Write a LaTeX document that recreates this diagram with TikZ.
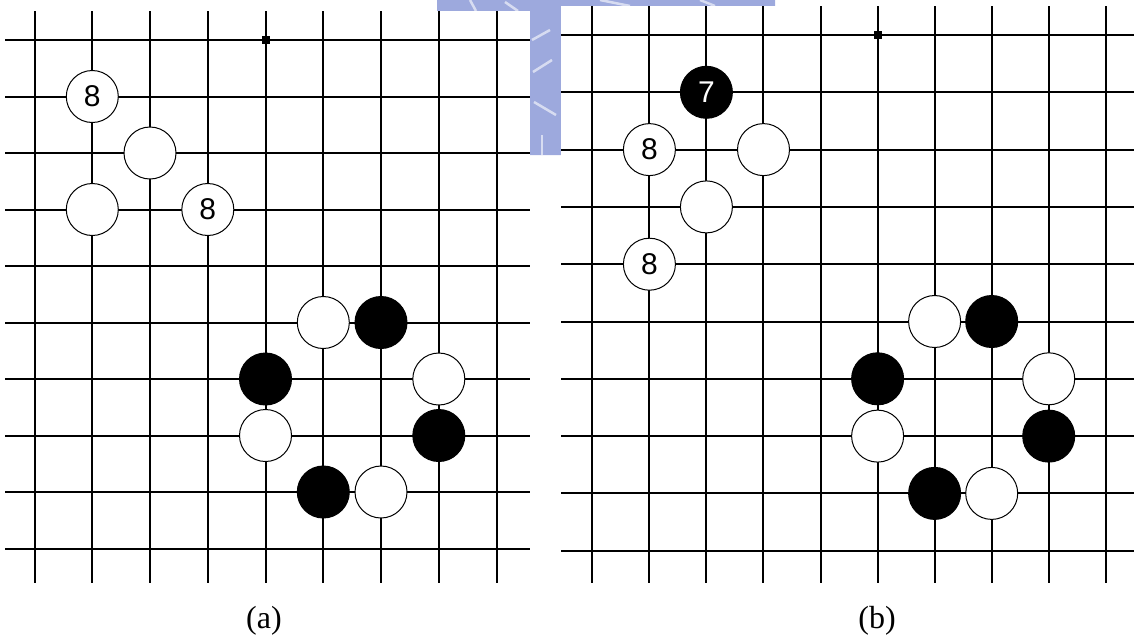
\documentclass[tikz,border=0pt]{standalone}
\usepackage{fontspec}
\setmainfont{Liberation Serif}
\newfontfamily\stonefont{Liberation Sans}
\definecolor{wmblue}{HTML}{9DA9DD}
\begin{document}
\begin{tikzpicture}[x=1pt,y=-1pt,
  gridline/.style={line width=2pt,black},
  wstone/.style={circle,draw=black,line width=1pt,fill=white,minimum size=52pt,inner sep=0pt,
    font=\stonefont\fontsize{30}{30}\selectfont},
  bstone/.style={circle,draw=black,line width=1pt,fill=black,minimum size=52pt,inner sep=0pt,
    text=white,font=\stonefont\fontsize{30}{30}\selectfont},
  starpt/.style={rectangle,fill=black,minimum size=8pt,inner sep=0pt},
  caption/.style={font=\fontsize{32}{32}\selectfont},
  wmstreak/.style={draw=white,line width=2.5pt,opacity=0.6}]
\useasboundingbox (0,0) rectangle (1134,641);
% watermark remnant
\fill[wmblue] (437,0) -- (775,0) -- (775,6) -- (561,6) -- (561,155) -- (530,155) -- (530,11) -- (437,11) -- cycle;
\draw[wmstreak] (470,0) -- (476,11);
\draw[wmstreak] (505,2) -- (518,11);
\draw[wmstreak] (600,0) -- (630,6);
\draw[wmstreak] (700,0) -- (715,6);
\draw[wmstreak] (532,40) -- (550,30);
\draw[wmstreak] (533,72) -- (552,60);
\draw[wmstreak] (534,102) -- (556,115);
\draw[wmstreak] (542,135) -- (542,155);
% board backgrounds
\fill[white] (0,11) rectangle (530,590);
\fill[white] (561,6) rectangle (1134,590);
% ---------------- left board ----------------
\foreach \i in {0,...,8} {
  \pgfmathsetmacro{\xx}{34.5+57.76*\i}
  \draw[gridline] (\xx,11) -- (\xx,583);
}
\foreach \j in {0,...,9} {
  \pgfmathsetmacro{\yy}{40+56.5*\j}
  \draw[gridline] (5,\yy) -- (530,\yy);
}
\node[starpt] (la) at (265.5,40) {};
\node[wstone] (l1) at (92.3,96.5) {8};
\node[wstone] (l2) at (150,153) {};
\node[wstone] (l3) at (92.3,209.5) {};
\node[wstone] (l4) at (207.8,209.5) {8};
\node[wstone] (l5) at (323.3,322.5) {};
\node[bstone] (l6) at (381,322.5) {};
\node[wstone] (l7) at (438.8,379) {};
\node[bstone] (l8) at (265.5,379) {};
\node[wstone] (l9) at (265.5,435.5) {};
\node[bstone] (l10) at (438.8,435.5) {};
\node[bstone] (l11) at (323.3,492) {};
\node[wstone] (l12) at (381,492) {};
\node[caption] (ca) at (264,621) {(a)};
% ---------------- right board ----------------
\foreach \i in {0,...,9} {
  \pgfmathsetmacro{\xx}{592.3+57.05*\i}
  \draw[gridline] (\xx,6) -- (\xx,583);
}
\foreach \j in {0,...,9} {
  \pgfmathsetmacro{\yy}{35+57.3*\j}
  \draw[gridline] (561,\yy) -- (1134,\yy);
}
\node[starpt] (ra) at (877.6,35) {};
\node[bstone] (r1) at (706.4,92.3) {7};
\node[wstone] (r2) at (649.4,149.6) {8};
\node[wstone] (r3) at (763.5,149.6) {};
\node[wstone] (r4) at (706.4,206.9) {};
\node[wstone] (r5) at (649.4,264.2) {8};
\node[wstone] (r6) at (934.6,321.5) {};
\node[bstone] (r7) at (991.7,321.5) {};
\node[bstone] (r8) at (877.6,378.8) {};
\node[wstone] (r9) at (1048.7,378.8) {};
\node[wstone] (r10) at (877.6,436.1) {};
\node[bstone] (r11) at (1048.7,436.1) {};
\node[bstone] (r12) at (934.6,493.4) {};
\node[wstone] (r13) at (991.7,493.4) {};
\node[caption] (cb) at (877,621) {(b)};
\end{tikzpicture}
\end{document}
